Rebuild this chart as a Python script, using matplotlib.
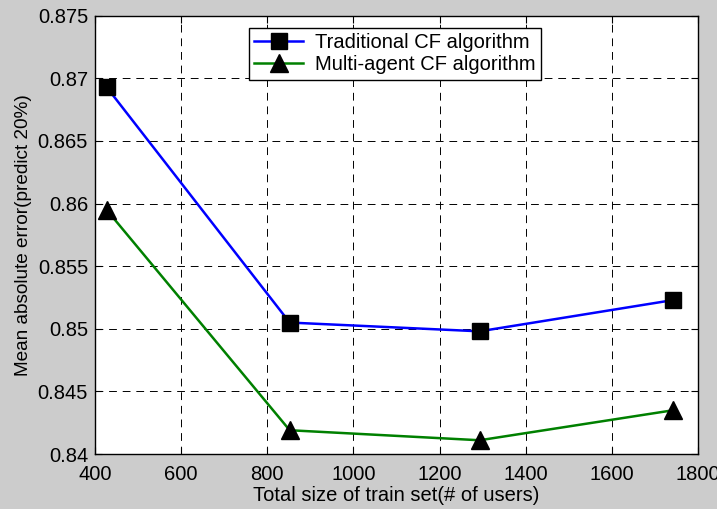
import matplotlib
matplotlib.use("Agg")
import matplotlib.pyplot as plt

# train set sizes (# of users)
users = [427, 852, 1293, 1743]
# mean absolute error, predict 20%
traditional_cf = [0.8693, 0.8505, 0.8498, 0.8523]
multi_agent_cf = [0.8595, 0.8419, 0.8411, 0.8435]

plt.rcParams['font.family'] = ['Liberation Sans', 'DejaVu Sans']

fig = plt.figure(figsize=(7.17, 5.09), dpi=100, facecolor="#cccccc")
ax = fig.add_axes([0.1325, 0.108, 0.841, 0.861])

ax.plot(users, traditional_cf, color="blue", lw=1.8, marker="s", ms=11,
        mfc="black", mec="black", label="Traditional CF algorithm")
ax.plot(users, multi_agent_cf, color="green", lw=1.8, marker="^", ms=13,
        mfc="black", mec="black", label="Multi-agent CF algorithm")

ax.set_xlim(400, 1800)
ax.set_ylim(0.84, 0.875)
ax.set_xticks(range(400, 1801, 200))
ax.set_yticks([0.84, 0.845, 0.85, 0.855, 0.86, 0.865, 0.87, 0.875])
ax.set_yticklabels(["0.84", "0.845", "0.85", "0.855", "0.86", "0.865", "0.87", "0.875"])

ax.grid(True, color="black", linestyle=(0, (8, 6)), lw=0.7)
ax.tick_params(direction="in", top=True, right=True, labelsize=14.5, length=5)
ax.tick_params(axis="x", pad=8)
ax.tick_params(axis="y", pad=5)
for s in ax.spines.values():
    s.set_linewidth(1.0)

ax.set_xlabel("Total size of train set(# of users)", fontsize=14.5, labelpad=1)
ax.set_ylabel("Mean absolute error(predict 20%)", fontsize=13.7, labelpad=4)

leg = ax.legend(loc="upper left", bbox_to_anchor=(0.255, 0.973), fontsize=14.5,
                fancybox=False, framealpha=1, edgecolor="black",
                borderpad=0.28, labelspacing=0.15, handlelength=2.4,
                handletextpad=0.6, borderaxespad=0)
leg.get_frame().set_linewidth(1.0)

fig.savefig("out.png", dpi=100, facecolor=fig.get_facecolor())
